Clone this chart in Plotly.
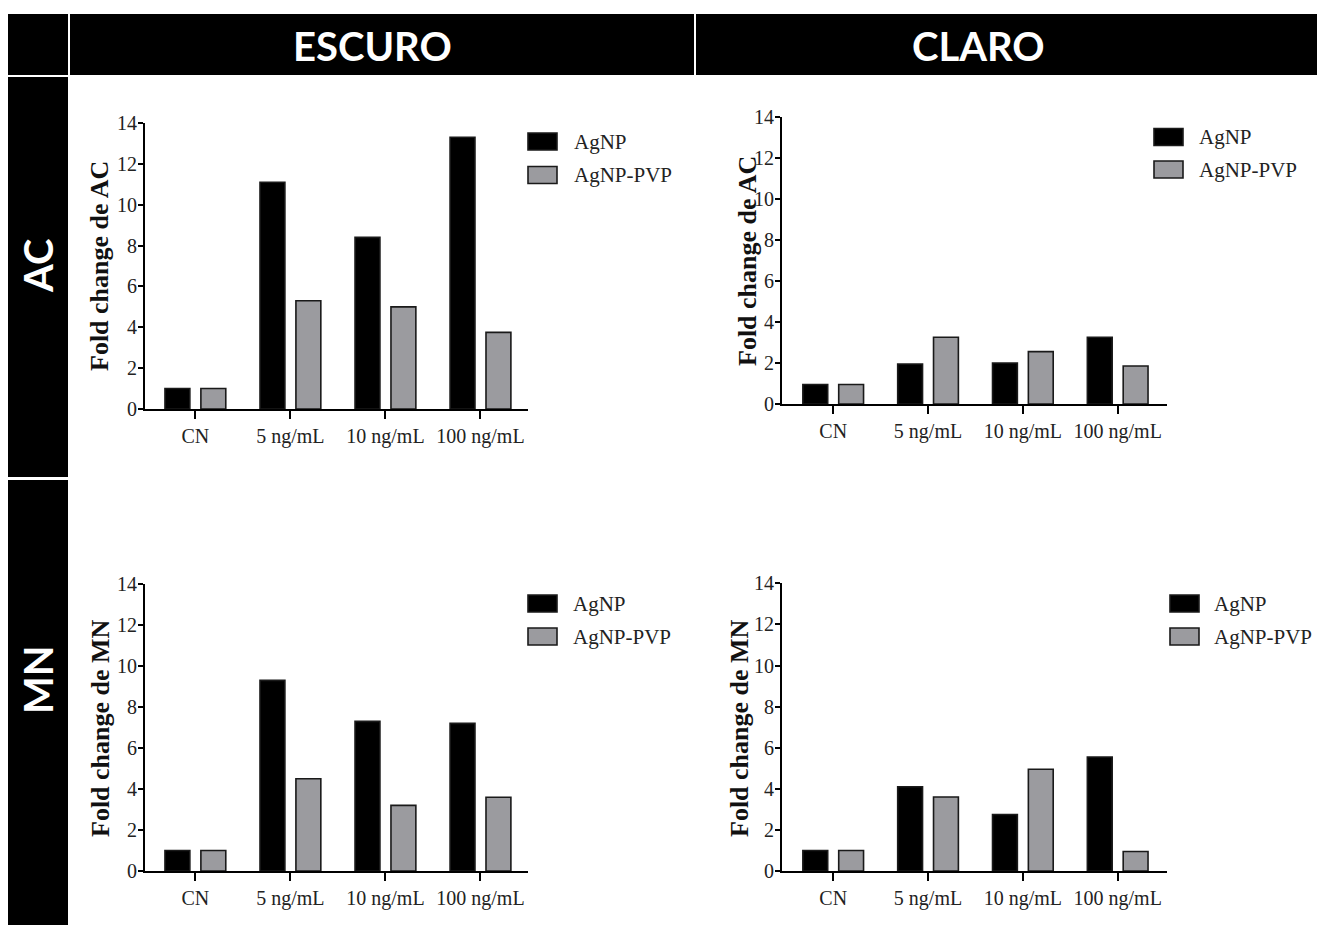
import plotly.graph_objects as go

W, H = 1317, 925

categories = ["CN", "5 ng/mL", "10 ng/mL", "100 ng/mL"]
series_names = ["AgNP", "AgNP-PVP"]
y_ticks = [0, 2, 4, 6, 8, 10, 12, 14]

# Fold change values per panel (rows: AC / MN, columns: ESCURO / CLARO)
ac_escuro_agnp = [1.0, 11.1, 8.4, 13.3]
ac_escuro_pvp = [1.0, 5.3, 5.0, 3.75]
ac_claro_agnp = [0.95, 1.95, 2.0, 3.25]
ac_claro_pvp = [0.95, 3.25, 2.55, 1.85]
mn_escuro_agnp = [1.0, 9.3, 7.3, 7.2]
mn_escuro_pvp = [1.0, 4.5, 3.2, 3.6]
mn_claro_agnp = [1.0, 4.1, 2.75, 5.55]
mn_claro_pvp = [1.0, 3.6, 4.95, 0.95]

col_titles = ["ESCURO", "CLARO"]
row_titles = ["AC", "MN"]
y_titles = ["Fold change de AC", "Fold change de MN"]

BLACK = "#000000"
GRAY = "#9b9b9f"
SERIF = "Liberation Serif, Times New Roman, serif"
SANS = "Lato, Open Sans, sans-serif"


def px(x):
    return x / W


def py(y):
    return 1 - y / H


# panel geometry in pixels: (x_left, x_right, y_zero, y_top)
panels = [
    dict(data=(ac_escuro_agnp, ac_escuro_pvp), x=(145, 528), y=(409, 123), rng=(-0.53, 3.5),
         title=y_titles[0], tpos=(100, 266), leg=(528, 572, 141.5, 175)),
    dict(data=(ac_claro_agnp, ac_claro_pvp), x=(782, 1167), y=(404, 116.7), rng=(-0.54, 3.52),
         title=y_titles[0], tpos=(747, 261), leg=(1154, 1197, 137, 169.5)),
    dict(data=(mn_escuro_agnp, mn_escuro_pvp), x=(145, 528), y=(871, 584), rng=(-0.53, 3.5),
         title=y_titles[1], tpos=(100, 728), leg=(528, 571, 603.5, 636.5)),
    dict(data=(mn_claro_agnp, mn_claro_pvp), x=(782, 1167), y=(871, 583.3), rng=(-0.54, 3.52),
         title=y_titles[1], tpos=(739, 728), leg=(1170, 1212, 603.5, 636.5)),
]

fig = go.Figure()
shapes = []
annotations = []

bar_width = 0.262
offsets = [-0.32, 0.058]
colors = [BLACK, GRAY]

for i, p in enumerate(panels, start=1):
    xa = "x" if i == 1 else f"x{i}"
    ya = "y" if i == 1 else f"y{i}"
    for s, vals in enumerate(p["data"]):
        fig.add_trace(go.Bar(
            x=categories, y=vals, name=series_names[s], xaxis=xa, yaxis=ya,
            width=bar_width, offset=offsets[s],
            marker=dict(color=colors[s], line=dict(color="#1a1a1a", width=1.6)),
            showlegend=False,
        ))
    axis_common = dict(showline=True, linecolor=BLACK, linewidth=2, showgrid=False,
                       zeroline=False, ticks="outside", tickcolor=BLACK, tickwidth=2,
                       automargin=False,
                       tickfont=dict(family=SERIF, size=20, color="#222222"))
    fig.layout[f"xaxis{'' if i == 1 else i}"] = dict(
        domain=[px(p["x"][0]), px(p["x"][1])], anchor=ya, type="category",
        range=list(p["rng"]), ticklen=8, **axis_common)
    fig.layout[f"yaxis{'' if i == 1 else i}"] = dict(
        domain=[py(p["y"][0]), py(p["y"][1])], anchor=xa, range=[0, 14],
        tickvals=y_ticks, ticklen=5, ticklabelstandoff=-3, **axis_common)

    # y-axis title
    tx, ty = p["tpos"]
    annotations.append(dict(text=f"<b>{p['title']}</b>", x=px(tx), y=py(ty), xref="paper",
                            yref="paper", textangle=-90, showarrow=False,
                            xanchor="center", yanchor="middle",
                            font=dict(family=SERIF, size=26, color="#111111")))

    # legend swatches and labels
    lx, ltx, ly1, ly2 = p["leg"]
    for s, ly in enumerate([ly1, ly2]):
        shapes.append(dict(type="rect", xref="paper", yref="paper",
                           x0=px(lx), x1=px(lx + 29), y0=py(ly - 8.5), y1=py(ly + 8.5),
                           fillcolor=colors[s], line=dict(color="#1a1a1a", width=1.6)))
        annotations.append(dict(text=series_names[s], x=px(ltx), y=py(ly), xref="paper",
                                yref="paper", showarrow=False, xanchor="left",
                                yanchor="middle",
                                font=dict(family=SERIF, size=21, color="#222222")))

# header bands
header_boxes = [(8, 68, 14, 75), (70, 694, 14, 75), (696, 1317, 14, 75),
                (8, 68, 77, 477), (8, 68, 480, 925)]
for x0, x1, y0, y1 in header_boxes:
    shapes.append(dict(type="rect", xref="paper", yref="paper", layer="below",
                       x0=px(x0), x1=px(x1), y0=py(y1), y1=py(y0),
                       fillcolor="#000000", line=dict(width=0)))

for text, cx in zip(col_titles, [373, 978]):
    annotations.append(dict(text=f"<b>{text}</b>", x=px(cx), y=py(46), xref="paper",
                            yref="paper", showarrow=False, xanchor="center",
                            yanchor="middle",
                            font=dict(family=SANS, size=40, color="#ffffff")))
for text, cy in zip(row_titles, [266, 680]):
    annotations.append(dict(text=f"<b>{text}</b>", x=px(38), y=py(cy), xref="paper",
                            yref="paper", showarrow=False, textangle=-90,
                            xanchor="center", yanchor="middle",
                            font=dict(family=SANS, size=40, color="#ffffff")))

fig.update_layout(
    width=W, height=H, margin=dict(l=0, r=0, t=0, b=0, pad=0, autoexpand=False),
    paper_bgcolor="#ffffff", plot_bgcolor="rgba(0,0,0,0)",
    barmode="overlay", shapes=shapes, annotations=annotations, showlegend=False,
)

fig.write_html("out.html")
